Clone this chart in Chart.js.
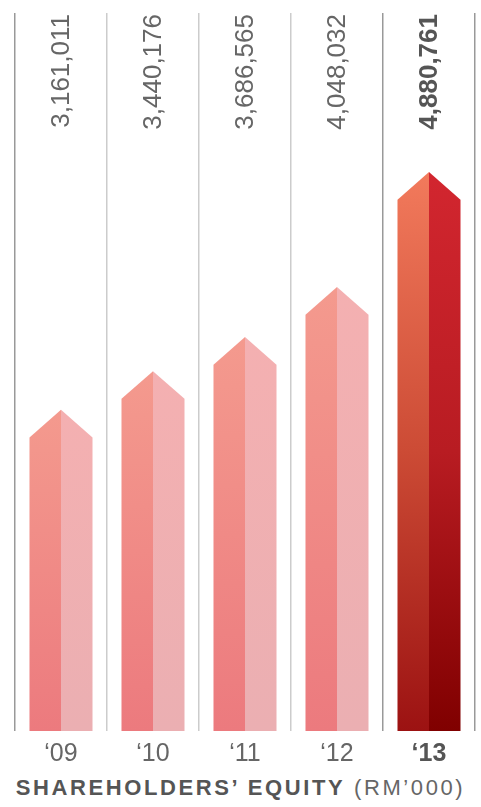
<!DOCTYPE html>
<html>
<head>
<meta charset="utf-8">
<script src="https://cdn.jsdelivr.net/npm/chart.js@4.4.0/dist/chart.umd.min.js"></script>
<style>
    body { margin: 0; background: #fff; }
    #wrap { position: relative; width: 481px; height: 770px; }
    #titulo {
        position: absolute; left: 0; top: 775px; width: 481px; text-align: center;
        font-family: "Liberation Sans", Arial, sans-serif; font-size: 22px;
        letter-spacing: 2.6px; color: #555; white-space: nowrap;
    }
    #titulo span { color: #666; }
</style>
</head>
<body>
<div id="wrap"><canvas id="chart-equity"></canvas></div>
<div id="titulo"><b>SHAREHOLDERS’ EQUITY</b> <span>(RM’000)</span></div>

<script>
// ===== DADOS =====
const anos = ['‘09', '‘10', '‘11', '‘12', '‘13'];
const equity = [3161011, 3440176, 3686565, 4048032, 4880761];
const destaque = [false, false, false, false, true];

// cores (topo / meio / base) de cada metade da seta
const corNormal = { esqTopo: '#F49A8E', esqBase: '#EC7A7E', dirTopo: '#F4B0B1', dirBase: '#EBAFB2' };
const corDestaque = { esqTopo: '#F27A5C', esqMeio: '#CC4B35', esqBase: '#9C1212', dirTopo: '#D2262F', dirMeio: '#B81C22', dirBase: '#800000' };

function gradiente(ctx, y0, y1, topo, meio, base) {
    const g = ctx.createLinearGradient(0, y0, 0, y1);
    g.addColorStop(0, topo);
    if (meio) g.addColorStop(0.5, meio);
    g.addColorStop(1, base);
    return g;
}

// Barras em forma de seta + valores rotacionados
const setasPlugin = {
    id: 'setas',
    afterDatasetsDraw(chart) {
        const ctx = chart.ctx;
        const area = chart.chartArea;
        const meta = chart.getDatasetMeta(0);

        meta.data.forEach((bar, i) => {
            const { x, y, width } = bar.getProps(['x', 'y', 'width'], true);
            const base = Math.min(bar.base, area.bottom);
            const meia = width / 2;
            const ponta = width * 0.44;
            const c = destaque[i] ? corDestaque : corNormal;

            ctx.save();
            ctx.beginPath();
            ctx.moveTo(x - meia, base);
            ctx.lineTo(x - meia, y + ponta);
            ctx.lineTo(x, y);
            ctx.lineTo(x, base);
            ctx.closePath();
            ctx.fillStyle = gradiente(ctx, y, base, c.esqTopo, c.esqMeio, c.esqBase);
            ctx.fill();

            ctx.beginPath();
            ctx.moveTo(x, base);
            ctx.lineTo(x, y);
            ctx.lineTo(x + meia, y + ponta);
            ctx.lineTo(x + meia, base);
            ctx.closePath();
            ctx.fillStyle = gradiente(ctx, y, base, c.dirTopo, c.dirMeio, c.dirBase);
            ctx.fill();
            ctx.restore();
        });

        meta.data.forEach((bar, i) => {
            ctx.save();
            ctx.translate(bar.x + 1, area.top + 1);
            ctx.rotate(-Math.PI / 2);
            ctx.textAlign = 'right';
            ctx.textBaseline = 'middle';
            ctx.font = (destaque[i] ? 'bold ' : '') + '26px "Liberation Sans", Arial, sans-serif';
            ctx.fillStyle = destaque[i] ? '#555' : '#666';
            ctx.fillText(equity[i].toLocaleString('en-US'), 0, 0);
            ctx.restore();
        });
    }
};

const ctx = document.getElementById('chart-equity');

new Chart(ctx, {
    type: 'bar',
    data: {
        labels: anos,
        datasets: [{
            data: equity,
            backgroundColor: 'rgba(0,0,0,0)',
            categoryPercentage: 1,
            barPercentage: 0.685
        }]
    },
    options: {
        responsive: true,
        maintainAspectRatio: false,
        animation: false,
        layout: { padding: { left: 15, right: 6, top: 13, bottom: 0 } },
        plugins: {
            legend: { display: false },
            tooltip: { enabled: false }
        },
        scales: {
            x: {
                grid: {
                    offset: true,
                    drawTicks: false,
                    color: c => (c.index === 0 || c.index === 4 || c.index === undefined) ? '#999' : '#ccc',
                    lineWidth: 1.5
                },
                border: { display: false },
                afterFit: s => { s.height = 39; },
                ticks: {
                    padding: 8,
                    color: c => destaque[c.index] ? '#555' : '#666',
                    font: c => ({
                        family: '"Liberation Sans", Arial, sans-serif',
                        size: 25,
                        weight: destaque[c.index] ? 'bold' : 'normal'
                    })
                }
            },
            y: {
                display: false,
                min: 838000,
                max: 6030000
            }
        }
    },
    plugins: [setasPlugin]
});
</script>
</body>
</html>
